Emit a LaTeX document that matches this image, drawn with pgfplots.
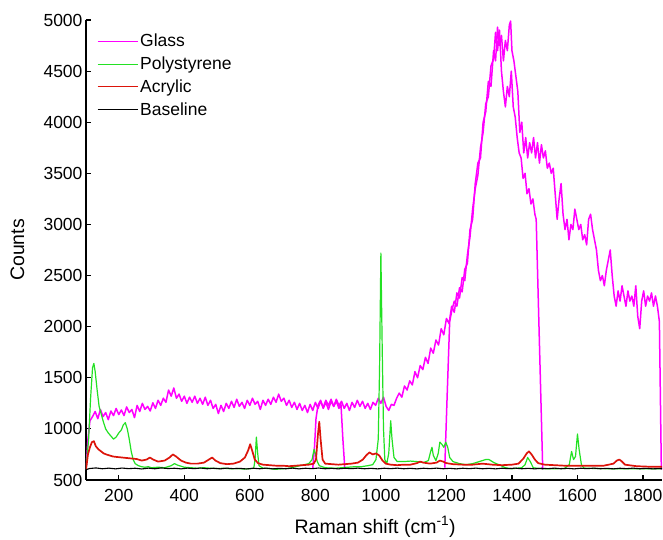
\documentclass[border=0pt]{standalone}
\usepackage{fontspec}
\setmainfont{Liberation Sans}
\usepackage{pgfplots}
\pgfplotsset{compat=1.18}
\definecolor{glass}{RGB}{255,0,255}
\definecolor{poly}{RGB}{35,225,35}
\definecolor{acryl}{RGB}{220,20,10}

\begin{document}
\begin{tikzpicture}
\useasboundingbox (-86pt,-60pt) rectangle (577pt,480pt);
\begin{axis}[
  width=576pt, height=460pt, scale only axis,
  xmin=100, xmax=1858, ymin=500, ymax=5000,
  axis lines*=left,
  axis line style={line width=1.6pt, -},
  tick align=inside,
  major tick length=5pt,
  tick style={line width=1.2pt, black},
  xtick={200,400,...,1800},
  ytick={500,1000,...,5000},
  ticklabel style={font=\fontsize{17.5}{20}\selectfont},
  xticklabel style={yshift=-6pt},
  /pgf/number format/assume math mode=true,
  /pgf/number format/1000 sep={},
  xlabel={Raman shift (cm\textsuperscript{-1})},
  ylabel={Counts},
  label style={font=\fontsize{19.5}{22}\selectfont},
  xlabel style={at={(axis description cs:0.502,-0.102)}, anchor=center},
  ylabel style={at={(axis description cs:-0.119,0.5)}, anchor=center},
  legend style={draw=none, fill=none, at={(0.014,0.978)}, anchor=north west,
    font=\fontsize{17.5}{20}\selectfont, row sep=4.5pt},
  legend cell align=left,
  legend image code/.code={\draw[#1, line width=0.9pt] (0pt,0pt) -- (40pt,0pt);},
  clip=true,
]
% Glass: three stitched acquisition windows
\addplot[glass, line width=1.5pt, line join=round] coordinates {
(100,600)(106,900)(112,1080)(120,1120)(128,1170)(136,1100)(144,1190)(152,1120)(160,1160)(168,1090)
(176,1175)(184,1130)(192,1200)(200,1140)(208,1185)(216,1130)(224,1215)(232,1160)(240,1190)(248,1110)
(256,1230)(264,1170)(272,1250)(280,1190)(288,1220)(296,1175)(304,1255)(312,1200)(320,1280)(328,1230)
(336,1300)(344,1260)(352,1380)(360,1320)(368,1400)(376,1300)(384,1340)(392,1270)(400,1320)(408,1250)
(416,1310)(424,1260)(432,1320)(440,1250)(448,1300)(456,1240)(464,1310)(472,1230)(480,1280)(488,1200)
(496,1240)(504,1150)(512,1230)(520,1170)(528,1250)(536,1200)(544,1270)(552,1210)(560,1290)(568,1220)
(576,1260)(584,1200)(592,1280)(600,1230)(608,1300)(616,1240)(624,1270)(632,1190)(640,1280)(648,1230)
(656,1290)(664,1240)(672,1310)(680,1260)(688,1340)(696,1270)(704,1300)(712,1230)(720,1280)(728,1210)
(736,1260)(744,1190)(752,1250)(760,1180)(768,1230)(776,1160)(784,1240)(792,1180)(800,1260)(808,1200)
(816,1270)(824,1210)(832,1280)(840,1230)(848,1290)(856,1220)(864,1270)(872,1200)(878,1250)(884,900)
(890,610)
};
\addlegendentry{Glass}
\addplot[glass, line width=1.5pt, line join=round, forget plot] coordinates {
(792,610)(797,800)(802,1100)(808,1230)(816,1280)(824,1200)(832,1260)(840,1190)(848,1270)(856,1220)
(864,1290)(872,1230)(880,1270)(888,1200)(896,1250)(904,1180)(912,1260)(920,1210)(928,1280)(936,1220)
(944,1270)(952,1200)(960,1250)(968,1190)(976,1260)(984,1230)(992,1300)(1000,1250)(1008,1310)(1016,1220)
(1024,1180)(1032,1240)(1040,1230)(1048,1300)(1056,1350)(1064,1310)(1072,1420)(1080,1380)(1088,1470)(1096,1430)
(1104,1560)(1112,1500)(1120,1620)(1128,1580)(1136,1700)(1144,1640)(1152,1790)(1160,1740)(1168,1870)(1176,1820)
(1184,1980)(1192,1920)(1200,2080)(1208,2030)(1216,2200)(1224,2140)(1232,2330)(1240,2280)(1248,2480)(1256,2450)
(1264,2700)(1272,2880)(1280,3150)(1288,3350)(1296,3480)(1304,3750)(1312,3900)(1320,4180)(1328,4250)(1336,4550)
(1344,4620)(1350,4880)(1356,4700)(1362,4900)(1368,4500)(1374,4300)(1380,4150)(1386,4350)(1392,4250)(1398,4500)
(1404,4150)(1410,4050)(1416,3850)(1422,3700)(1428,3650)(1434,3450)(1440,3500)(1446,3300)(1452,3350)(1458,3200)
(1464,3250)(1470,3100)(1474,3050)(1494,600)
};
\addplot[glass, line width=1.5pt, line join=round, forget plot] coordinates {
(1195,620)(1202,1300)(1210,2050)(1216,2150)(1224,2250)(1232,2200)(1240,2380)(1248,2340)(1256,2560)(1264,2620)
(1272,2950)(1280,3050)(1288,3400)(1296,3600)(1304,3650)(1312,4000)(1320,4100)(1328,4400)(1336,4350)(1344,4700)
(1350,4600)(1356,4930)(1362,4750)(1368,4850)(1374,4600)(1380,4800)(1386,4700)(1392,4950)(1396,4990)(1400,4700)
(1406,4600)(1412,4450)(1418,4300)(1424,3900)(1430,4000)(1436,3700)(1442,3850)(1448,3650)(1454,3800)(1460,3700)
(1466,3850)(1472,3650)(1478,3800)(1484,3600)(1490,3780)(1496,3650)(1502,3720)(1508,3550)(1514,3600)(1520,3500)
(1526,3550)(1532,3300)(1538,3050)(1544,3250)(1550,3400)(1556,3100)(1562,2950)(1568,3050)(1574,2850)(1580,3000)
(1586,2950)(1592,3150)(1598,3050)(1604,2950)(1610,3000)(1616,2850)(1622,2900)(1628,2800)(1634,3050)(1640,3100)
(1646,2950)(1652,2850)(1658,2750)(1664,2550)(1670,2450)(1676,2500)(1682,2400)(1688,2550)(1694,2650)(1700,2750)
(1706,2500)(1712,2300)(1718,2200)(1724,2350)(1730,2250)(1736,2400)(1742,2300)(1748,2200)(1754,2350)(1760,2250)
(1766,2300)(1772,2200)(1778,2400)(1784,2100)(1790,1980)(1796,2250)(1802,2350)(1808,2200)(1814,2300)(1820,2250)
(1826,2330)(1832,2200)(1838,2300)(1844,2200)(1850,2050)(1856,600)
};
% Polystyrene
\addplot[poly, line width=1.2pt, line join=round] coordinates {
(100,600)(108,900)(114,1300)(120,1600)(124,1640)(128,1560)(134,1380)(140,1220)(146,1150)(152,1080)
(160,1000)(168,960)(176,930)(184,900)(192,920)(200,960)(208,990)(214,1040)(220,1060)(226,1000)
(232,900)(238,780)(244,700)(250,660)(260,640)(270,630)(280,625)(290,630)(300,620)(320,625)
(340,620)(360,640)(370,660)(380,645)(400,625)(420,620)(440,615)(460,620)(480,615)(500,612)
(520,615)(540,610)(560,612)(580,608)(600,610)(612,615)(616,700)(620,920)(624,760)(628,640)
(640,615)(660,612)(680,605)(700,610)(720,615)(740,630)(760,645)(780,660)(790,700)(796,800)
(800,760)(806,680)(812,640)(830,620)(860,615)(880,620)(900,625)(920,630)(940,630)(960,640)
(975,650)(985,700)(992,900)(996,1600)(1000,2720)(1004,1800)(1008,1000)(1012,700)(1018,660)(1024,760)
(1030,1080)(1034,900)(1040,720)(1050,680)(1070,680)(1090,685)(1110,680)(1130,670)(1145,690)(1152,780)
(1156,820)(1160,740)(1168,690)(1175,760)(1180,870)(1186,850)(1192,820)(1198,870)(1204,820)(1210,720)
(1220,680)(1240,660)(1260,650)(1280,660)(1300,680)(1320,700)(1330,700)(1345,670)(1360,650)(1380,620)
(1400,610)(1430,620)(1440,650)(1448,720)(1456,680)(1465,620)(1490,610)(1520,610)(1560,612)(1575,650)
(1582,780)(1588,700)(1594,730)(1600,950)(1605,800)(1612,650)(1620,615)(1700,610)(1800,610)(1858,610)
};
\addlegendentry{Polystyrene}
% Acrylic
\addplot[acryl, line width=1.7pt, line join=round] coordinates {
(100,600)(106,750)(112,820)(118,870)(124,880)(130,830)(138,800)(146,780)(154,760)(162,750)
(172,740)(182,730)(195,725)(210,720)(225,715)(240,710)(255,705)(270,690)(285,700)(295,720)
(305,700)(320,680)(340,690)(355,720)(365,750)(375,730)(390,690)(405,670)(420,660)(440,660)
(460,670)(475,700)(485,720)(495,690)(510,665)(530,655)(550,660)(570,680)(585,720)(595,790)
(601,850)(607,790)(615,700)(625,665)(640,650)(660,645)(680,640)(700,640)(720,635)(740,640)
(760,645)(780,650)(795,660)(802,700)(808,950)(812,1070)(816,900)(822,700)(830,660)(850,655)
(870,650)(890,655)(910,660)(930,670)(945,700)(955,740)(965,770)(975,750)(985,760)(995,740)
(1005,690)(1015,660)(1030,650)(1050,645)(1070,650)(1090,650)(1110,665)(1120,680)(1130,670)(1150,660)
(1170,670)(1180,690)(1190,680)(1200,665)(1220,655)(1250,650)(1280,650)(1310,660)(1340,650)(1370,645)
(1400,650)(1420,660)(1435,710)(1445,760)(1452,780)(1460,750)(1470,700)(1480,665)(1500,650)(1530,645)
(1560,640)(1600,640)(1640,640)(1680,640)(1710,660)(1720,690)(1728,700)(1736,680)(1745,650)(1780,635)
(1820,630)(1858,630)
};
\addlegendentry{Acrylic}
% Baseline
\addplot[black, line width=1.1pt, line join=round] coordinates {
(100,600)(110,612)(130,618)(150,610)(170,616)(190,609)(210,617)(230,611)(250,615)(270,608)
(290,616)(310,610)(330,618)(350,612)(370,615)(390,609)(410,616)(430,611)(450,617)(470,610)
(490,615)(510,609)(530,616)(550,611)(570,614)(590,608)(610,615)(630,610)(650,616)(670,609)
(690,614)(710,610)(730,616)(750,609)(770,615)(790,611)(810,617)(830,610)(850,614)(870,609)
(890,615)(910,611)(930,616)(950,610)(970,614)(990,609)(1010,615)(1030,611)(1050,616)(1070,610)
(1090,614)(1110,609)(1130,615)(1150,611)(1170,616)(1190,610)(1210,614)(1230,609)(1250,615)(1270,611)
(1290,616)(1310,610)(1330,614)(1350,609)(1370,615)(1390,611)(1410,616)(1430,610)(1450,614)(1470,609)
(1490,615)(1510,611)(1530,616)(1550,610)(1570,614)(1590,609)(1610,615)(1630,611)(1650,616)(1670,610)
(1690,614)(1710,609)(1730,615)(1750,611)(1770,616)(1790,610)(1810,614)(1830,609)(1858,613)
};
\addlegendentry{Baseline}
\end{axis}
\end{tikzpicture}
\end{document}
